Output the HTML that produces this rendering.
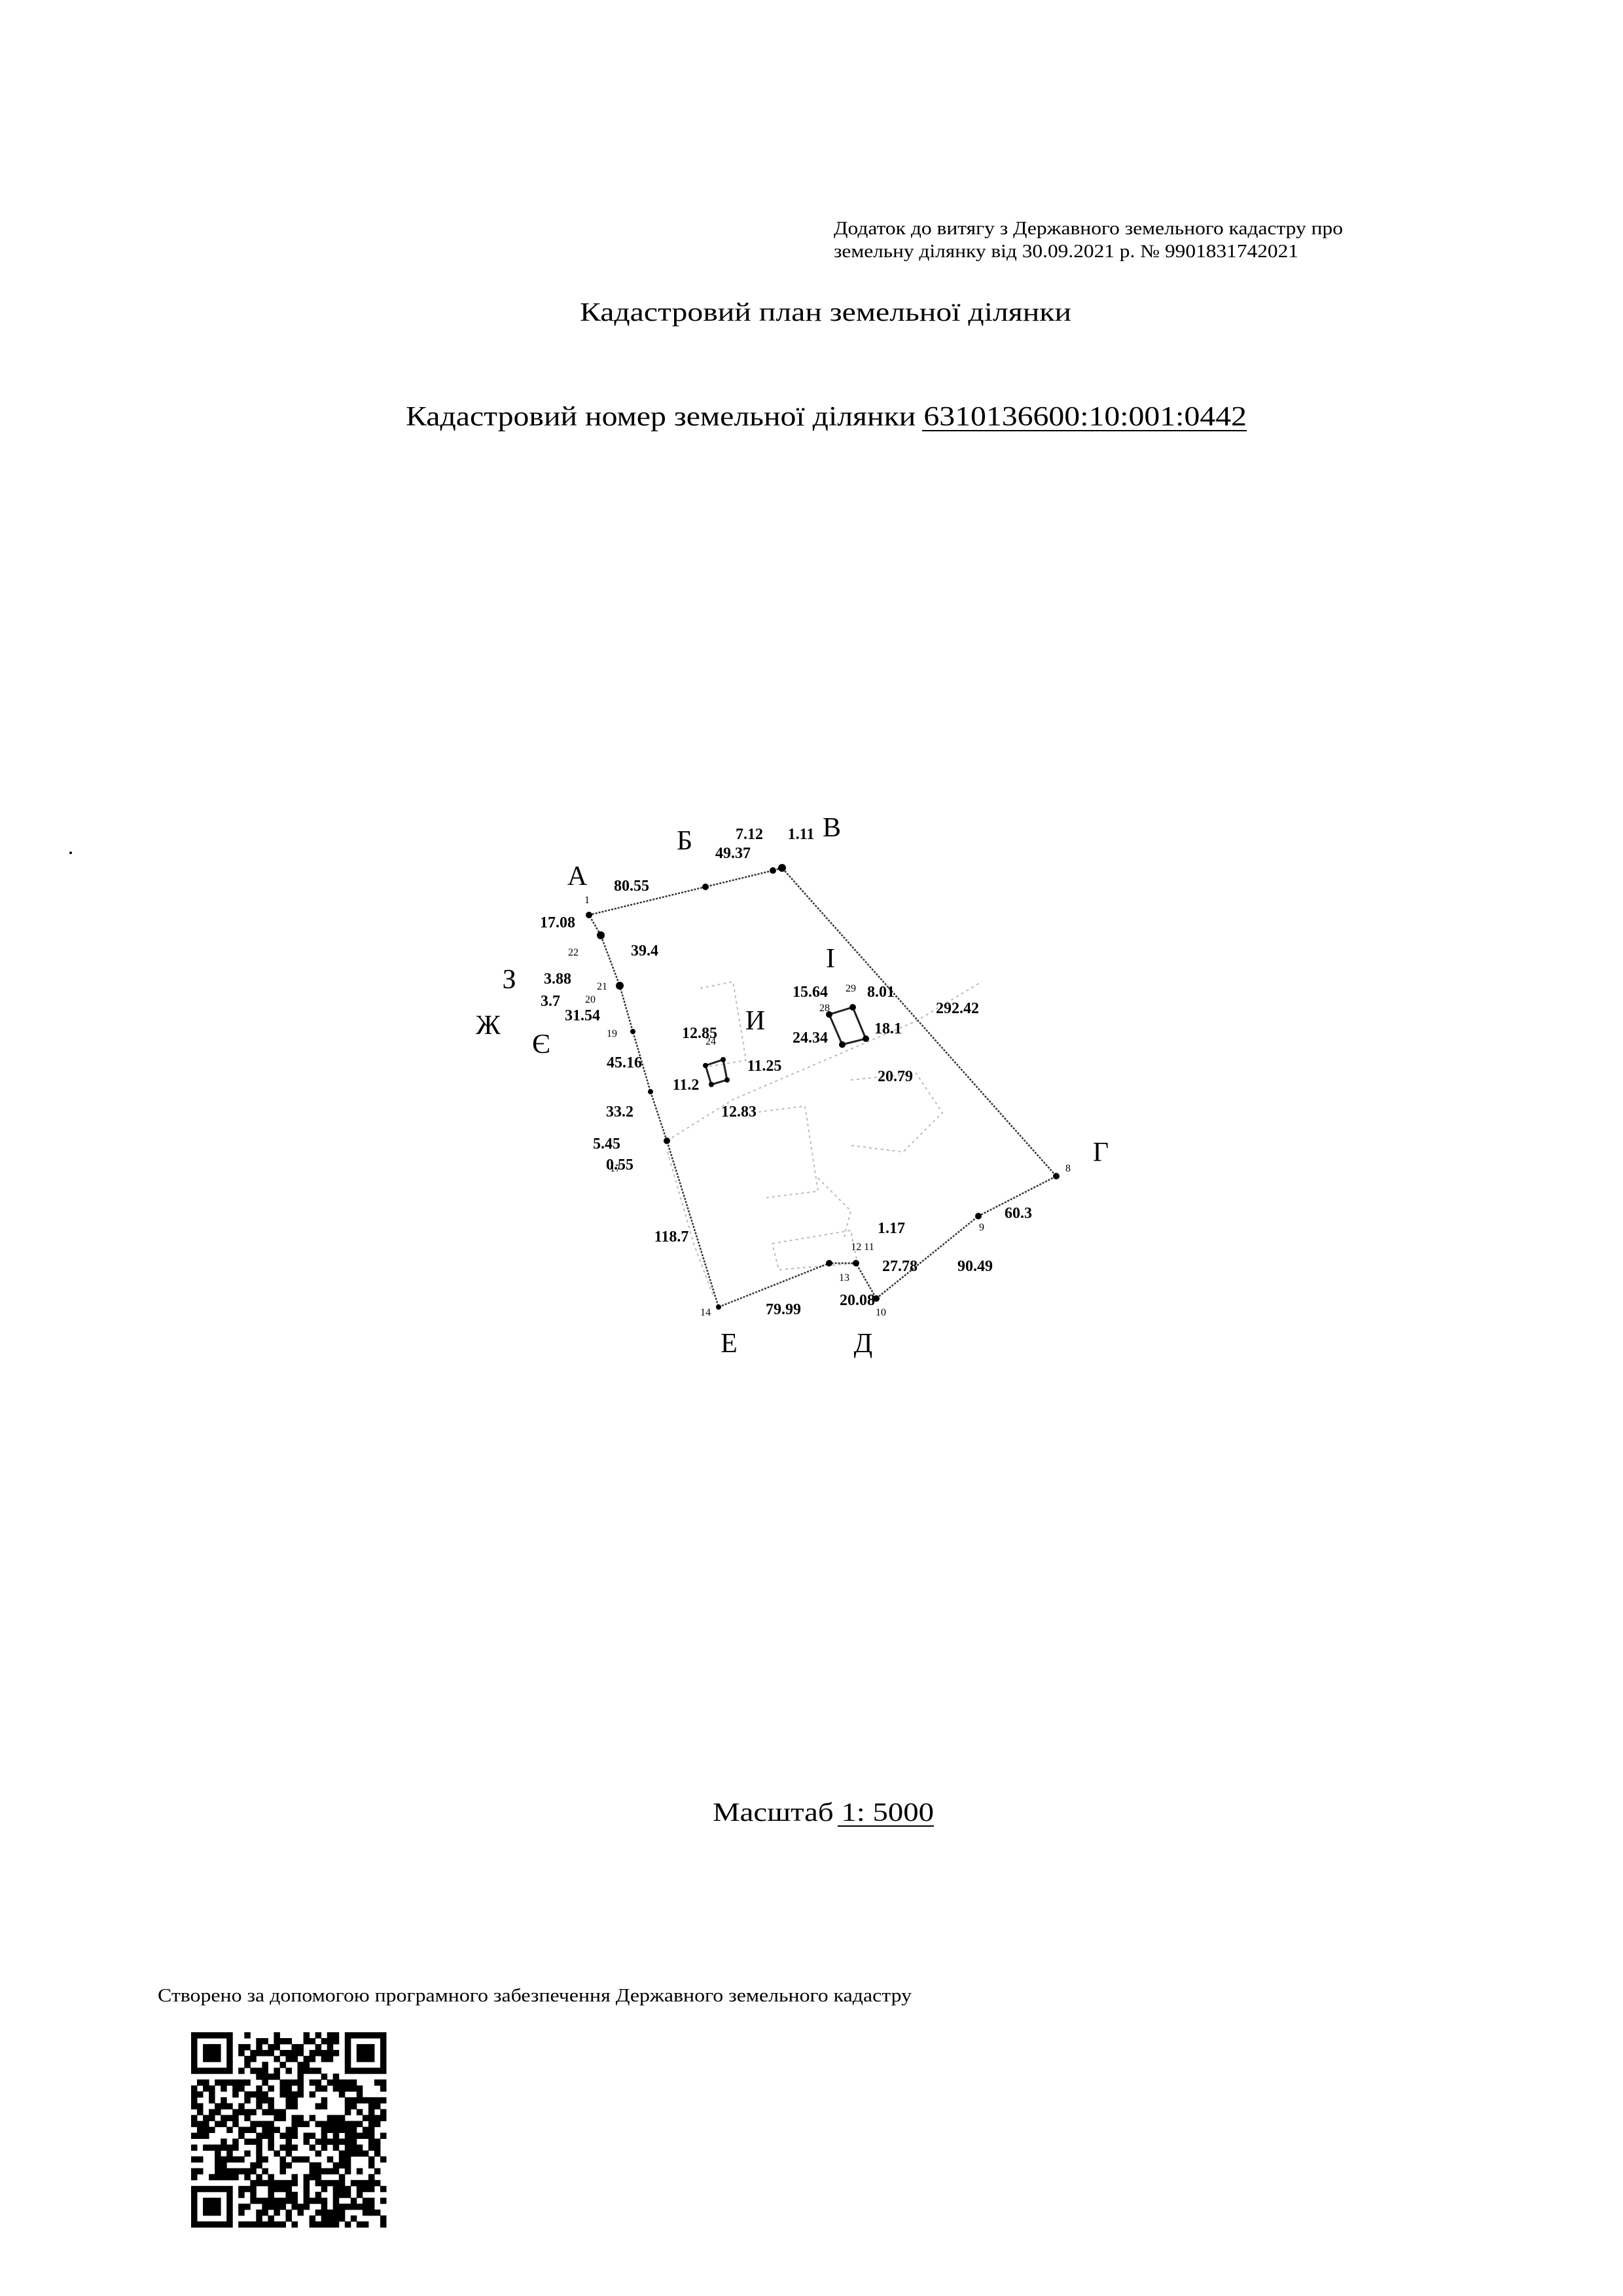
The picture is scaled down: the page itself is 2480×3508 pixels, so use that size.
<!DOCTYPE html>
<html><head><meta charset="utf-8"><style>
html,body{margin:0;padding:0;background:#fff}
svg{display:block}
text{font-family:"Liberation Serif",serif;fill:#000}
.n{font-size:24px;font-weight:bold;text-anchor:middle}
.L{font-size:42px;text-anchor:middle}
.s{font-size:16px;fill:#999;text-anchor:middle}
</style></head><body>
<svg width="2480" height="3508" viewBox="0 0 2480 3508" xmlns="http://www.w3.org/2000/svg">
<text x="1274" y="358" font-size="28" textLength="778" lengthAdjust="spacingAndGlyphs">Додаток до витягу з Державного земельного кадастру про</text>
<text x="1274" y="393" font-size="28" textLength="710" lengthAdjust="spacingAndGlyphs">земельну ділянку від 30.09.2021 р. № 9901831742021</text>
<text x="886" y="490" font-size="40" textLength="751" lengthAdjust="spacingAndGlyphs">Кадастровий план земельної ділянки</text>
<text x="620" y="650" font-size="42" textLength="1285" lengthAdjust="spacingAndGlyphs">Кадастровий номер земельної ділянки 6310136600:10:001:0442</text>
<line x1="1409" y1="658" x2="1905" y2="658" stroke="#000" stroke-width="2"/>
<text x="1089" y="2782" font-size="40" textLength="338" lengthAdjust="spacingAndGlyphs">Масштаб 1: 5000</text>
<line x1="1280" y1="2790" x2="1427" y2="2790" stroke="#000" stroke-width="2"/>
<text x="241" y="3058" font-size="28" textLength="1152" lengthAdjust="spacingAndGlyphs">Створено за допомогою програмного забезпечення Державного земельного кадастру</text>
<circle cx="108" cy="1303" r="2" fill="#000"/>

<!-- faint interior -->
<g stroke="#bbb" stroke-width="2" fill="none" stroke-dasharray="4 5">
<polyline points="1019,1743 1120,1680 1260,1620 1400,1560 1500,1500"/>
<polyline points="1070,1510 1120,1500 1140,1620 1080,1630"/>
<polyline points="1300,1650 1400,1640 1440,1700 1380,1760 1300,1750"/>
<polyline points="1150,1700 1230,1690 1250,1820 1170,1830"/>
<polyline points="1180,1900 1300,1880 1310,1930 1190,1940 1180,1900"/>
<polyline points="1250,1800 1300,1850 1290,1890"/>
<polyline points="1020,1760 1060,1900 1090,1980"/>
</g>
<!-- boundary -->
<polygon points="900,1398 1078,1355 1181,1330 1195,1326 1614,1797 1495,1858 1339,1984 1308,1930 1267,1930 1098,1997 1019,1743 994,1668 967,1576 947,1506 918,1429" fill="none" stroke="#333" stroke-width="2.5" stroke-dasharray="3 2"/>
<polygon points="1267,1550 1303,1539 1323,1587 1287,1596" fill="none" stroke="#222" stroke-width="3"/>
<polygon points="1078,1628 1105,1619 1111,1650 1087,1657" fill="none" stroke="#222" stroke-width="3"/>
<g fill="#000">
<circle cx="900" cy="1398" r="5"/><circle cx="1078" cy="1355" r="5"/><circle cx="1181" cy="1330" r="5"/><circle cx="1195" cy="1326" r="6"/><circle cx="1614" cy="1797" r="5"/><circle cx="1495" cy="1858" r="5"/><circle cx="1339" cy="1984" r="5"/><circle cx="1308" cy="1930" r="5"/><circle cx="1267" cy="1930" r="5"/><circle cx="1098" cy="1997" r="4"/><circle cx="1019" cy="1743" r="5"/><circle cx="994" cy="1668" r="4"/><circle cx="967" cy="1576" r="4"/><circle cx="947" cy="1506" r="6"/><circle cx="918" cy="1429" r="6"/>
<circle cx="1267" cy="1550" r="5"/><circle cx="1303" cy="1539" r="5"/><circle cx="1323" cy="1587" r="5"/><circle cx="1287" cy="1596" r="5"/>
<circle cx="1078" cy="1628" r="4"/><circle cx="1105" cy="1619" r="4"/><circle cx="1111" cy="1650" r="4"/><circle cx="1087" cy="1657" r="4"/>
</g>
<!-- letters -->
<text class="L" x="882" y="1352">А</text><text class="L" x="1046" y="1298">Б</text><text class="L" x="1271" y="1278">В</text>
<text class="L" x="1682" y="1774">Г</text><text class="L" x="1319" y="2066">Д</text><text class="L" x="1114" y="2066">Е</text>
<text class="L" x="778" y="1510">З</text><text class="L" x="746" y="1580">Ж</text><text class="L" x="827" y="1609">Є</text>
<text class="L" x="1154" y="1573">И</text><text class="L" x="1269" y="1478">І</text>
<!-- numbers -->
<g class="n">
<text x="965" y="1361">80.55</text><text x="1120" y="1311">49.37</text><text x="1145" y="1282">7.12</text><text x="1224" y="1282">1.11</text>
<text x="852" y="1417">17.08</text><text x="985" y="1460">39.4</text><text x="852" y="1503">3.88</text><text x="841" y="1537">3.7</text>
<text x="890" y="1559">31.54</text><text x="1069" y="1586">12.85</text><text x="954" y="1631">45.16</text><text x="1168" y="1636">11.25</text>
<text x="1048" y="1665">11.2</text><text x="1129" y="1706">12.83</text><text x="947" y="1706">33.2</text><text x="927" y="1755">5.45</text>
<text x="947" y="1787">0.55</text><text x="1026" y="1897">118.7</text><text x="1238" y="1523">15.64</text><text x="1346" y="1523">8.01</text>
<text x="1463" y="1548">292.42</text><text x="1238" y="1593">24.34</text><text x="1357" y="1579">18.1</text><text x="1368" y="1652">20.79</text>
<text x="1362" y="1884">1.17</text><text x="1375" y="1942">27.78</text><text x="1490" y="1942">90.49</text><text x="1556" y="1861">60.3</text>
<text x="1197" y="2008">79.99</text><text x="1310" y="1994">20.08</text>
</g>
<g class="s">
<text x="897" y="1380">1</text><text x="876" y="1460">22</text><text x="920" y="1512">21</text><text x="902" y="1532">20</text><text x="935" y="1584">19</text>
<text x="1086" y="1596">24</text><text x="1300" y="1515">29</text><text x="1260" y="1545">28</text><text x="1078" y="2010">14</text><text x="1346" y="2010">10</text>
<text x="1290" y="1957">13</text><text x="1318" y="1910">12 11</text><text x="1500" y="1880">9</text><text x="1632" y="1790">8</text><text x="940" y="1790">17</text>
</g>
<!-- QR -->
<g id="qr"></g>
<rect x="292" y="3105" width="298" height="298" fill="#555" id="qrbg"/>
</svg>
<script>
(function(){
var N=33,s=298/N,x0=292,y0=3105,h='';
var seed=12345;function r(){seed=(seed*1103515245+12345)&0x7fffffff;return seed/0x7fffffff;}
function fin(cx,cy){return [cx,cy];}
var F=[[0,0],[N-7,0],[0,N-7]];
function inF(i,j){for(var k=0;k<3;k++){var a=F[k];if(i>=a[0]-1&&i<a[0]+8&&j>=a[1]-1&&j<a[1]+8)return k;}return -1;}
for(var j=0;j<N;j++)for(var i=0;i<N;i++){
 var b;var k=inF(i,j);
 if(k>=0){var a=F[k],u=i-a[0],v=j-a[1];
  if(u<0||v<0||u>6||v>6)b=0;else if(u==0||v==0||u==6||v==6)b=1;else if(u==1||v==1||u==5||v==5)b=0;else b=1;}
 else b=r()<0.55?1:0;
 if(b)h+='<rect x="'+(x0+i*s).toFixed(1)+'" y="'+(y0+j*s).toFixed(1)+'" width="'+(s+0.5).toFixed(1)+'" height="'+(s+0.5).toFixed(1)+'"/>';
}
document.getElementById('qr').innerHTML=h;
var bg=document.getElementById('qrbg');bg.parentNode.removeChild(bg);
})();
</script>
</body></html>
